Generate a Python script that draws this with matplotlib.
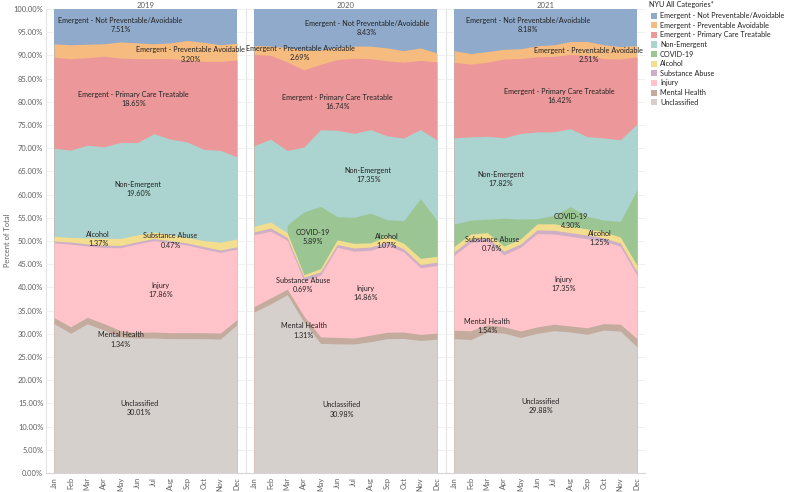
import numpy as np
import matplotlib.pyplot as plt
from matplotlib.patches import Rectangle

plt.rcParams['font.family'] = ['Lato', 'DejaVu Sans']

# === Input data (percent of monthly total) ===
months = ["Jan", "Feb", "Mar", "Apr", "May", "Jun",
          "Jul", "Aug", "Sep", "Oct", "Nov", "Dec"]
years = ["2019", "2020", "2021"]

categories = ["Emergent - Not Preventable/Avoidable",
              "Emergent - Preventable Avoidable",
              "Emergent - Primary Care Treatable",
              "Non-Emergent", "COVID-19", "Alcohol", "Substance Abuse",
              "Injury", "Mental Health", "Unclassified"]

nan = np.nan
not_preventable = [
    [7.5, 7.7, 7.6, 7.5, 7.1, 7.3, 7.5, 7.3, 6.8, 7.2, 7.7, 7.4],
    [7.9, 8.0, 8.3, 8.8, 8.8, 8.3, 8.0, 8.0, 8.4, 9.0, 8.4, 9.5],
    [9.0, 9.6, 9.2, 8.7, 8.6, 7.9, 7.7, 7.0, 7.0, 7.7, 8.1, 7.9]]
preventable = [
    [2.9, 3.0, 2.9, 2.7, 3.5, 3.4, 3.2, 3.4, 4.2, 4.1, 3.6, 3.6],
    [1.9, 2.0, 3.1, 4.3, 3.1, 2.6, 2.6, 2.7, 2.8, 2.5, 2.7, 1.9],
    [2.5, 2.3, 2.3, 2.1, 2.1, 2.4, 2.5, 2.8, 3.0, 3.0, 2.7, 2.4]]
primary_care = [
    [19.6, 19.7, 18.9, 19.5, 18.2, 18.1, 16.2, 17.4, 17.7, 19.0, 19.2, 20.9],
    [19.7, 18.1, 19.0, 16.6, 14.1, 15.2, 16.2, 15.3, 16.2, 16.4, 14.9, 16.9],
    [16.3, 15.7, 16.0, 17.0, 16.2, 16.2, 16.2, 16.0, 17.5, 17.1, 17.4, 14.5]]
non_emergent = [
    [19.0, 18.8, 20.0, 19.7, 20.7, 19.9, 21.2, 20.6, 20.6, 19.7, 19.8, 17.7],
    [17.4, 17.9, 16.0, 14.0, 16.5, 18.6, 18.1, 18.0, 18.1, 17.9, 14.9, 17.4],
    [18.6, 18.0, 17.9, 17.4, 18.5, 18.7, 18.0, 16.8, 17.2, 17.7, 17.6, 14.2]]
covid = [
    [nan] * 12,
    [nan, nan, 1.7, 13.5, 13.4, 5.0, 5.6, 6.4, 3.6, 4.9, 12.9, 7.7],
    [4.8, 3.0, 2.9, 6.0, 4.3, 1.1, 1.8, 4.2, 2.7, 2.5, 3.4, 16.3]]
alcohol = [
    [1.0, 1.0, 1.3, 1.5, 1.5, 1.5, 1.4, 1.3, 1.2, 1.3, 1.7, 1.7],
    [1.2, 1.3, 1.0, 0.5, 0.7, 1.0, 1.0, 0.9, 1.2, 1.2, 1.3, 1.3],
    [1.2, 1.1, 1.1, 1.1, 1.1, 1.3, 1.4, 1.4, 1.3, 1.3, 1.3, 1.4]]
substance = [
    [0.4, 0.45, 0.45, 0.5, 0.5, 0.45, 0.45, 0.45, 0.45, 0.5, 0.5, 0.5],
    [0.6, 0.7, 0.6, 0.8, 0.7, 0.6, 0.7, 0.7, 0.7, 0.7, 0.7, 0.7],
    [0.8, 0.7, 0.7, 0.8, 0.7, 0.8, 0.8, 0.8, 0.8, 0.7, 0.7, 0.8]]
injury = [
    [16.1, 17.8, 15.4, 16.4, 17.9, 19.1, 19.7, 19.4, 18.9, 18.1, 17.4, 15.2],
    [15.5, 14.4, 10.5, 7.6, 13.3, 19.4, 18.7, 18.3, 18.8, 17.3, 14.4, 14.6],
    [16.1, 19.1, 18.1, 15.5, 18.1, 20.1, 19.4, 19.3, 19.2, 17.8, 16.8, 13.6]]
mental = [
    [1.3, 1.4, 1.4, 1.4, 1.3, 1.2, 1.3, 1.3, 1.3, 1.3, 1.3, 1.1],
    [1.2, 1.3, 1.2, 1.3, 1.4, 1.4, 1.3, 1.4, 1.4, 1.4, 1.3, 1.3],
    [1.8, 1.9, 1.6, 1.4, 1.4, 1.4, 1.4, 1.3, 1.4, 1.4, 1.5, 1.8]]
unclassified = [
    [32.2, 30.1, 32.2, 30.8, 29.4, 29.1, 29.1, 29.0, 29.0, 29.0, 28.9, 32.0],
    [34.7, 36.5, 38.3, 32.5, 27.9, 27.8, 27.8, 28.3, 29.0, 29.1, 28.6, 28.9],
    [29.0, 28.8, 30.4, 30.2, 29.3, 30.1, 30.6, 30.4, 29.9, 30.8, 30.6, 27.2]]

# yearly share labels shown on the areas
share_labels = [
    ["7.51%", "3.20%", "18.65%", "19.60%", None, "1.37%", "0.47%", "17.86%", "1.34%", "30.01%"],
    ["8.43%", "2.69%", "16.74%", "17.35%", "5.89%", "1.07%", "0.69%", "14.86%", "1.31%", "30.98%"],
    ["8.18%", "2.51%", "16.42%", "17.82%", "4.30%", "1.25%", "0.76%", "17.35%", "1.54%", "29.88%"]]

series = [not_preventable, preventable, primary_care, non_emergent, covid,
          alcohol, substance, injury, mental, unclassified]

colors = ["#8faacb", "#f6bb7f", "#ec989a", "#abd3cf", "#9bc694",
          "#f3dd8f", "#cfafc6", "#ffc3c9", "#c3ab9e", "#d6d0cd"]

# label anchor points (month index, percent) per panel
label_pos = [
    [(4.0, 96.5), (8.2, 90.2), (4.78, 80.6), (5.07, 61.2), None,
     (2.65, 50.4), (7.0, 50.1), (6.4, 39.5), (4.0, 28.8), (5.13, 14.0)],
    [(6.78, 95.9), (2.78, 90.5), (5.02, 79.9), (6.87, 64.2), (3.53, 50.9),
     (8.0, 50.0), (2.97, 40.5), (6.7, 38.85), (2.99, 30.7), (5.28, 13.7)],
    [(4.43, 96.5), (8.11, 90.1), (6.34, 81.3), (2.82, 63.4), (7.01, 54.3),
     (8.77, 50.6), (2.27, 49.3), (6.58, 40.7), (2.0, 31.7), (5.2, 14.5)]]

# === Figure ===
W, H = 787, 492
fig = plt.figure(figsize=(W / 100, H / 100), dpi=100)
x = np.arange(12)
txt = "#222222"
grey = "#5f5f5f"

for p, year in enumerate(years):
    left = 46 + 200 * p
    ax = fig.add_axes([left / W, 1 - 473 / H, 199 / W, 464 / H])

    vals = np.array([s[p] for s in series], dtype=float)
    filled = np.nan_to_num(vals)
    share = filled / filled.sum(axis=0) * 100
    # cumulative tops, stacking from the bottom (last category) upward
    cum = np.cumsum(share[::-1], axis=0)[::-1]

    # paint from the top layer down so each layer covers the one above
    for k in range(len(series)):
        mask = ~np.isnan(vals[k])
        if not mask.any():
            continue
        ax.fill_between(x, 0, cum[k], where=mask, color=colors[k],
                        linewidth=0, zorder=2)

    for k, name in enumerate(categories):
        pos = label_pos[p][k]
        if pos is None:
            continue
        ax.text(pos[0], pos[1], f"{name}\n{share_labels[p][k]}", ha="center",
                va="center", fontsize=5.2, color=txt, linespacing=1.4,
                zorder=5, clip_on=True)

    ax.set_xlim(-0.48, 11.48)
    ax.set_ylim(0, 100)
    ax.set_yticks(np.arange(0, 101, 5))
    ax.grid(True, axis="y", color="#eeeeee", linewidth=0.6)
    ax.set_axisbelow(True)
    ax.set_xticks(x)
    ax.set_xticklabels(months, rotation=90, fontsize=5.3, color=grey)
    ax.tick_params(axis="x", length=0, pad=3)
    ax.tick_params(axis="y", length=0, pad=2)
    if p == 0:
        ax.set_yticklabels([f"{v:.2f}%" for v in np.arange(0, 101, 5)],
                           fontsize=5.4, color=grey)
    else:
        ax.set_yticklabels([])
    for side in ["top", "right"]:
        ax.spines[side].set_visible(False)
    ax.spines["left"].set_color("#e3e3e3")
    ax.spines["bottom"].set_color("#d5d5d5")
    ax.spines["left"].set_linewidth(0.8)
    ax.spines["bottom"].set_linewidth(0.8)
    ax.text(0.5, 1.0, year, transform=ax.transAxes, ha="center", va="bottom",
            fontsize=5.6, color=grey)

fig.text(8 / W, 1 - 240 / H, "Percent of Total", rotation=90, ha="center",
         va="center", fontsize=5.4, color=grey)

# === Legend drawn by hand ===
fig.text(649 / W, 1 - 5 / H, "NYU All Categories*", ha="left", va="center",
         fontsize=5.2, color=txt)
for i, name in enumerate(categories):
    yc = 15.7 + 9.6 * i
    fig.add_artist(Rectangle((651 / W, 1 - (yc + 3) / H), 6 / W, 6 / H,
                             transform=fig.transFigure, facecolor=colors[i],
                             edgecolor="none"))
    fig.text(660 / W, 1 - yc / H, name, ha="left", va="center",
             fontsize=5.2, color=txt)

fig.savefig("out.png", dpi=100, facecolor="white")
